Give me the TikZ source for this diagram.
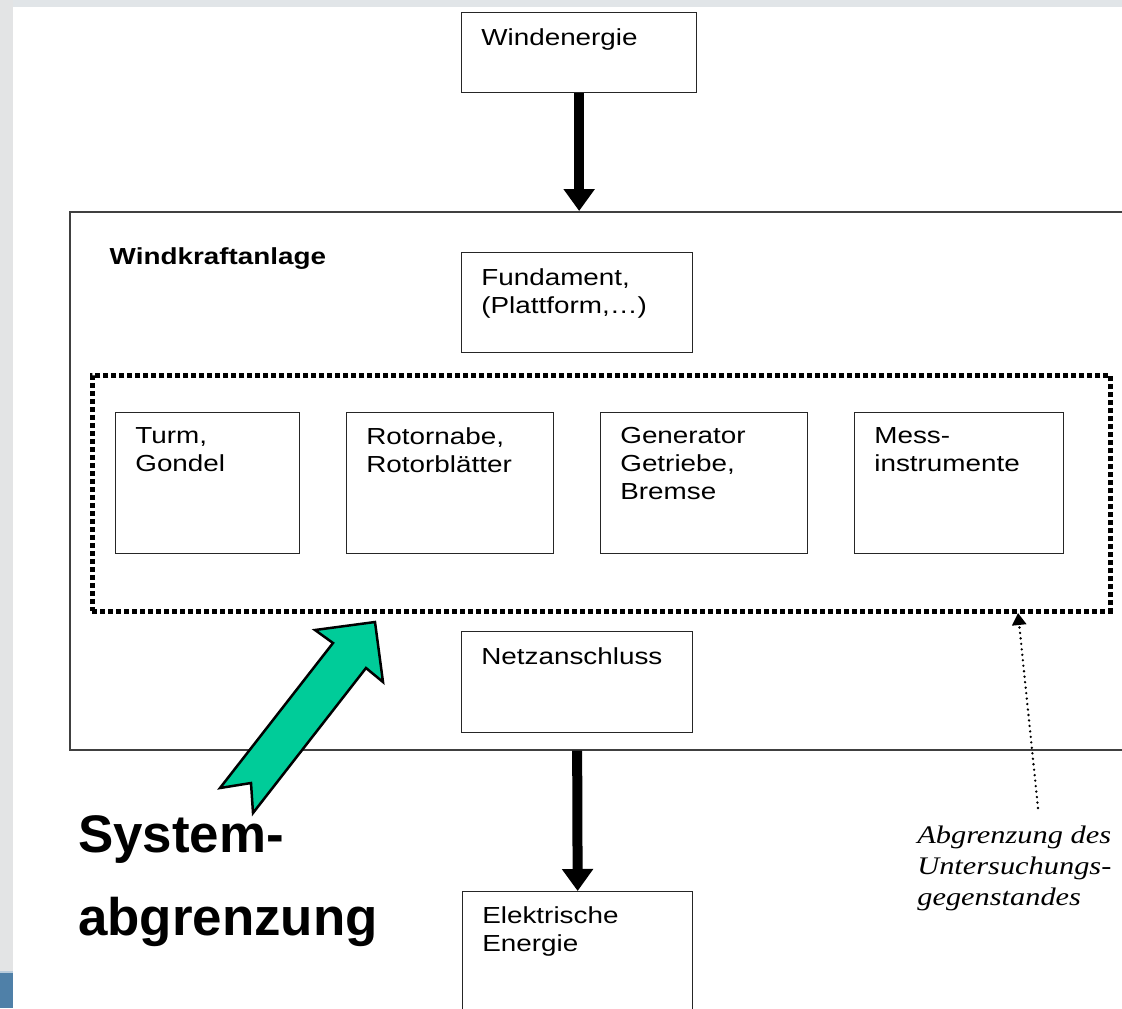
\documentclass[tikz,border=0pt]{standalone}
\usepackage{fontspec}
\setmainfont{Liberation Sans}
\newfontfamily\serifkursiv{Liberation Serif}
\usepackage{tikz}
\usetikzlibrary{arrows.meta}
\usepackage{xcolor}
\definecolor{wkgreen}{RGB}{0,204,153}
\definecolor{wktop}{RGB}{225,229,232}
\definecolor{wkside}{RGB}{227,228,229}
\definecolor{wkblue}{RGB}{79,128,168}
\newdimen\unitpx \unitpx=0.025cm
\tikzstyle{kasten} = [rectangle, draw=black!85, line width=1.3\unitpx, anchor=north west, inner sep=0pt]
\tikzstyle{kastentext} = [anchor=north west, inner sep=0pt, xshift=20\unitpx, yshift=-16\unitpx, xscale=1.2, align=left, font=\fontsize{16.5}{19.85}\selectfont]
\tikzstyle{grenze} = [rectangle, draw=black, line width=4.5\unitpx, dash pattern=on 5\unitpx off 3\unitpx, anchor=north west, inner sep=0pt]
\tikzstyle{fluss} = [line width=10\unitpx, -{Triangle[width=0.75cm,length=0.55cm]}]
\tikzstyle{hinweis} = [line width=2.6\unitpx, line cap=round, dash pattern=on 0pt off 5.5\unitpx, -{Triangle[width=0.35cm,length=0.3cm]}]

\begin{document}
\begin{tikzpicture}[x=0.025cm, y=-0.025cm]
\useasboundingbox (0,0) rectangle (1122,1008);
\clip (0,0) rectangle (1122,1008);

% Page background
\fill[white] (0,0) rectangle (1122,1008);
\fill[wktop] (0,0) rectangle (1122,7);
\fill[wkside] (0,0) rectangle (13,1008);
\fill[wkblue!40] (0,971) rectangle (13,973);
\fill[wkblue] (0,973) rectangle (13,1008);

% Input and plant
\node (wind) [kasten, minimum width=235\unitpx, minimum height=80\unitpx, label={[kastentext]north west:Windenergie}] at (461,12) {};
\node (anlage) [kasten, draw=black!75, line width=1.6\unitpx, minimum width=1090\unitpx, minimum height=538\unitpx, label={[kastentext, xshift=17\unitpx, yshift=-20\unitpx, font=\fontsize{16.5}{19.85}\selectfont\bfseries]north west:Windkraftanlage}] at (69,211) {};
\node (fundament) [kasten, minimum width=231\unitpx, minimum height=100\unitpx, label={[kastentext]north west:Fundament,\\(Plattform,\dots)}] at (461,252) {};

% Components inside the study boundary
\node (turm) [kasten, minimum width=184\unitpx, minimum height=141\unitpx, label={[kastentext, yshift=1\unitpx]north west:Turm,\\Gondel}] at (115,412) {};
\node (rotor) [kasten, minimum width=207\unitpx, minimum height=141\unitpx, label={[kastentext, yshift=1\unitpx]north west:Rotornabe,\\Rotorbl\"atter}] at (346,412) {};
\node (generator) [kasten, minimum width=207\unitpx, minimum height=141\unitpx, label={[kastentext, yshift=1\unitpx]north west:Generator\\Getriebe,\\Bremse}] at (600,412) {};
\node (mess) [kasten, minimum width=209\unitpx, minimum height=141\unitpx, label={[kastentext, yshift=1\unitpx]north west:Mess-\\instrumente}] at (854,412) {};
\node (untersuchungsrahmen) [grenze, minimum width=1018\unitpx, minimum height=236\unitpx] at (90,373) {};

% Grid and output
\node (netz) [kasten, minimum width=231\unitpx, minimum height=101\unitpx, label={[kastentext]north west:Netzanschluss}] at (461,631) {};
\node (strom) [kasten, minimum width=230\unitpx, minimum height=140\unitpx, label={[kastentext, yshift=1\unitpx]north west:Elektrische\\Energie}] at (462,891) {};

% Energy flow
\draw[fluss] (wind.south) -- (wind.south |- anlage.north);
\draw[fluss] (netz.south |- anlage.south) -- (strom.north);

% Note on the study boundary
\node (anmerkung) [anchor=north west, inner sep=0pt, xscale=1.2, align=left, font=\serifkursiv\itshape\fontsize{18}{22}\selectfont] at (917,826) {Abgrenzung des\\Untersuchungs-\\gegenstandes};
\coordinate (fuss) at (1038,808);
\coordinate (ziel) at (1018,613);
\draw[hinweis] (fuss) -- (ziel);

% System boundary arrow
\draw[fill=wkgreen, line width=2.5\unitpx, line join=miter] (375,622) -- (315,630) -- (333,643) -- (220,788) -- (251,783) -- (253,813) -- (366,668) -- (383,682) -- cycle;
\node (systemgrenze) [anchor=north west, inner sep=0pt, align=left, font=\fontsize{37.6}{51}\selectfont\bfseries] at (78,815) {System-\\[8.5pt]abgrenzung};
\end{tikzpicture}
\end{document}
